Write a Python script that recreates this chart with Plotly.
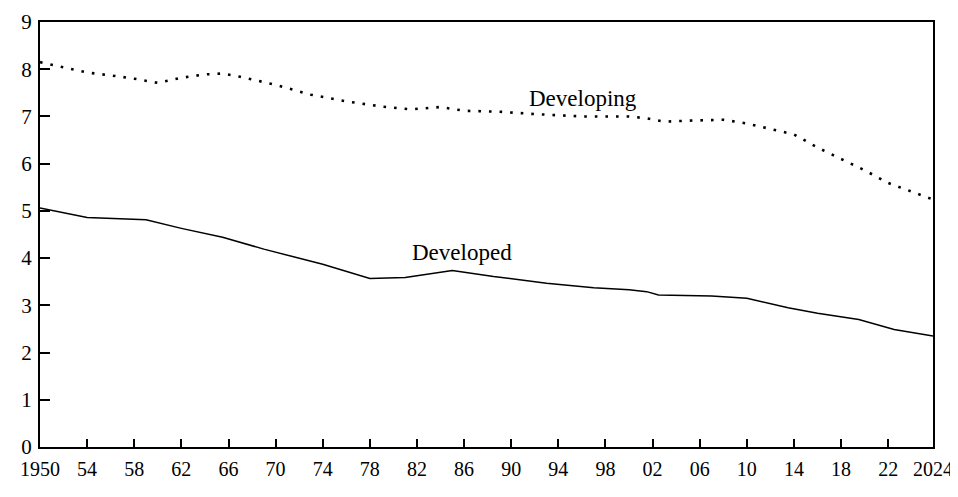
import plotly.graph_objects as go

# Data
developing_years = [1950, 1952, 1954, 1956, 1958, 1960, 1962, 1964, 1965.5, 1967, 1970, 1973,
                    1976, 1979, 1981.5, 1984, 1986, 1989, 1992, 1996, 2000, 2001.5, 2003, 2005,
                    2008, 2010, 2012, 2014, 2016, 2018, 2020, 2022, 2024, 2025.6]
developing_values = [8.15, 8.04, 7.93, 7.87, 7.80, 7.71, 7.82, 7.89, 7.91, 7.84, 7.67, 7.46,
                     7.32, 7.21, 7.15, 7.20, 7.12, 7.10, 7.05, 7.00, 7.00, 6.96, 6.89, 6.91,
                     6.93, 6.85, 6.73, 6.62, 6.34, 6.10, 5.86, 5.59, 5.40, 5.26]

developed_years = [1950, 1954, 1959, 1962, 1965.5, 1969, 1974, 1978, 1981, 1985, 1988.5, 1993,
                   1997, 2000, 2001.5, 2002.5, 2007, 2010, 2013.5, 2016, 2019.5, 2022.5, 2025.8]
developed_values = [5.06, 4.86, 4.81, 4.63, 4.44, 4.19, 3.87, 3.57, 3.59, 3.74, 3.61, 3.47,
                    3.37, 3.33, 3.29, 3.22, 3.20, 3.15, 2.95, 2.83, 2.70, 2.49, 2.35]

x_start, x_end = 1950, 2025.8
x_tickvals = [1950, 1954, 1958, 1962, 1966, 1970, 1974, 1978, 1982, 1986, 1990, 1994, 1998,
              2002, 2006, 2010, 2014, 2018, 2022, x_end]
x_ticktext = ["1950", "54", "58", "62", "66", "70", "74", "78", "82", "86", "90", "94", "98",
              "02", "06", "10", "14", "18", "22", "2024"]
y_tickvals = list(range(0, 10))

labels = [("Developing", 1996.1, 7.39), ("Developed", 1985.8, 4.11)]

FONT = "Liberation Serif"

fig = go.Figure()
fig.add_trace(go.Scatter(x=developing_years, y=developing_values, mode="lines",
                         line=dict(color="black", width=2.6, dash="2.6px,8px"),
                         showlegend=False, hoverinfo="skip"))
fig.add_trace(go.Scatter(x=developed_years, y=developed_values, mode="lines",
                         line=dict(color="black", width=1.5),
                         showlegend=False, hoverinfo="skip"))

for text, x, y in labels:
    fig.add_annotation(x=x, y=y, text=text, showarrow=False,
                       font=dict(family=FONT, size=23, color="black"))

fig.update_layout(
    width=950, height=489,
    margin=dict(l=32, r=25, t=14, b=50),
    paper_bgcolor="white", plot_bgcolor="white",
    font=dict(family=FONT, size=21, color="black"),
)
fig.update_xaxes(range=[x_start, x_end], tickvals=x_tickvals, ticktext=x_ticktext,
                 ticks="inside", ticklen=8, tickwidth=1.5, tickcolor="black",
                 showline=True, linewidth=2, linecolor="black", mirror=True,
                 showgrid=False, zeroline=False, tickangle=0, automargin=False,
                 ticklabelstandoff=3, tickfont=dict(family=FONT, size=20, color="black"))
fig.update_yaxes(range=[0, 9], tickvals=y_tickvals,
                 ticks="inside", ticklen=10, tickwidth=1.5, tickcolor="black",
                 showline=True, linewidth=2, linecolor="black", mirror=True,
                 showgrid=False, zeroline=False, automargin=False, ticklabelstandoff=2)

fig.write_html("out.html")
